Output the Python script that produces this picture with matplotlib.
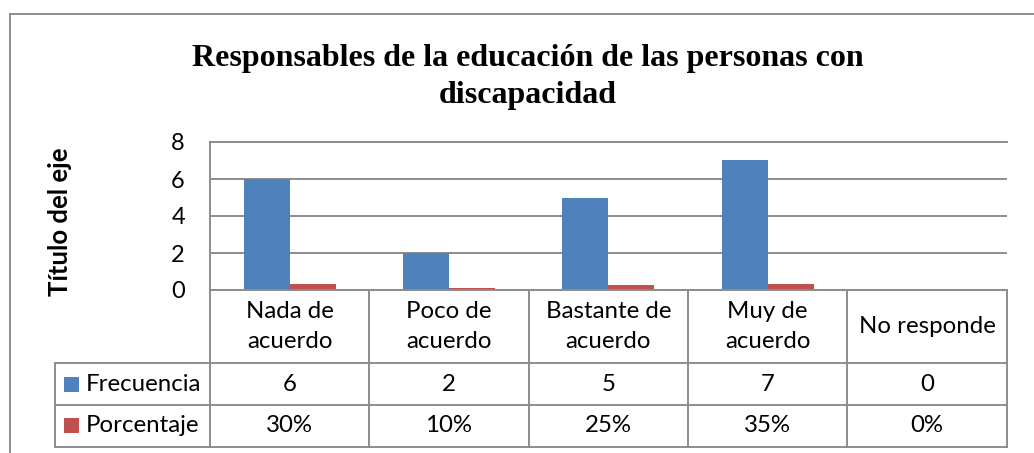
import matplotlib.pyplot as plt
import numpy as np
from matplotlib.patches import Rectangle

# Data
categories = ['Nada de\nacuerdo', 'Poco de\nacuerdo', 'Bastante de\nacuerdo', 'Muy de\nacuerdo', 'No responde']
frecuencia = [6, 2, 5, 7, 0]
porcentaje = [0.30, 0.10, 0.25, 0.35, 0.0]
pct_labels = ['30%', '10%', '25%', '35%', '0%']
series_names = ['Frecuencia', 'Porcentaje']
colors = ['#4F81BD', '#C0504D']
yticks = [0, 2, 4, 6, 8]

W, H = 1034, 453
fig = plt.figure(figsize=(W / 100, H / 100), dpi=100)

def fx(px):
    return px / W

def fy(py):
    return 1 - py / H

sans = 'Lato'
grid_c = '#8c8c8c'

# outer chart border (only top and left visible)
fig.add_artist(Rectangle((fx(10), fy(470)), 1.2, fy(14) - fy(470), transform=fig.transFigure,
                         fill=False, edgecolor='#8c8c8c', lw=1.4, clip_on=False))

# plot area
x0, x1, ytop, yzero = 210, 1006.7, 142, 290
ax = fig.add_axes([fx(x0), fy(yzero), fx(x1) - fx(x0), fy(ytop) - fy(yzero)])
n = len(categories)
x = np.arange(n)
bw = 0.289
ax.bar(x - bw / 2, frecuencia, bw, color=colors[0], zorder=3)
ax.bar(x + bw / 2, porcentaje, bw, color=colors[1], zorder=3)
ax.set_xlim(-0.5, n - 0.5)
ax.set_ylim(0, 8)
ax.set_yticks(yticks)
ax.set_yticklabels([str(t) for t in yticks], fontsize=17, family=sans)
ax.tick_params(axis='y', length=0, pad=18)
ax.set_xticks([])
ax.grid(axis='y', color=grid_c, lw=1.4, zorder=0)
for s in ['right', 'bottom']:
    ax.spines[s].set_visible(False)
ax.spines['top'].set_color(grid_c)
ax.spines['top'].set_linewidth(1.4)
ax.spines['left'].set_color(grid_c)
ax.spines['left'].set_linewidth(1.4)

fig.text(fx(60), fy(222), 'Título del eje', rotation=90, ha='center', va='center',
         fontsize=18.5, fontweight='bold', family=sans)

# data table below the axis
col_w = (x1 - x0) / n
cols = [x0 + i * col_w for i in range(n + 1)]
tleft = 55
rows = [290, 363.3, 405, 446.7]

def hline(xa, xb, y):
    fig.add_artist(plt.Line2D([fx(xa), fx(xb)], [fy(y), fy(y)], transform=fig.transFigure,
                              color=grid_c, lw=1.4))

def vline(xx, ya, yb):
    fig.add_artist(plt.Line2D([fx(xx), fx(xx)], [fy(ya), fy(yb)], transform=fig.transFigure,
                              color=grid_c, lw=1.4))

hline(x0, x1, rows[0])
for r in rows[1:]:
    hline(tleft, x1, r)
for c in cols:
    vline(c, rows[0], rows[3])
vline(tleft, rows[1], rows[3])

fs = 17.3
for i, cat in enumerate(categories):
    cx = (cols[i] + cols[i + 1]) / 2
    fig.text(fx(cx), fy((rows[0] + rows[1]) / 2), cat, ha='center', va='center',
             fontsize=fs, family=sans, linespacing=1.55)
    fig.text(fx(cx), fy((rows[1] + rows[2]) / 2), str(frecuencia[i]), ha='center', va='center',
             fontsize=fs, family=sans)
    fig.text(fx(cx), fy((rows[2] + rows[3]) / 2), pct_labels[i], ha='center', va='center',
             fontsize=fs, family=sans)

for j, name in enumerate(series_names):
    yc = (rows[j + 1] + rows[j + 2]) / 2
    fig.add_artist(Rectangle((fx(64), fy(yc + 7.5)), fx(15), 15 / H, transform=fig.transFigure,
                             facecolor=colors[j], edgecolor='none'))
    fig.text(fx(86), fy(yc), name, ha='left', va='center', fontsize=fs, family=sans)

# title
fig.text(fx(528), fy(77), 'Responsables de la educación de las personas con\ndiscapacidad',
         ha='center', va='center', fontsize=23, fontweight='bold', family='Liberation Serif',
         linespacing=1.4)

plt.savefig('out.png', dpi=100)
